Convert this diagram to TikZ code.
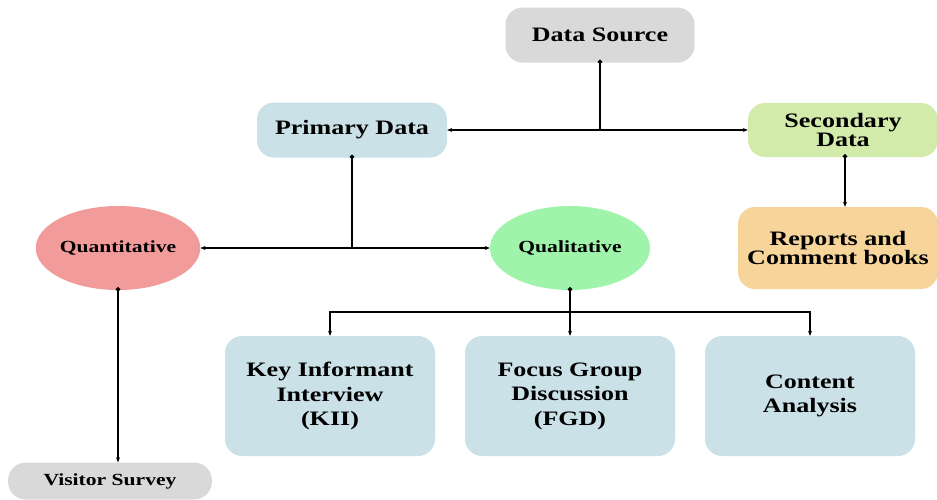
\documentclass[tikz,border=0pt]{standalone}
\usepackage{fontspec}
\setmainfont{Liberation Serif}[FakeStretch=1.27]
\usetikzlibrary{arrows.meta,shapes.geometric}
\definecolor{srcgray}{HTML}{D9D9D9}
\definecolor{boxblue}{HTML}{C9E1E7}
\definecolor{secgreen}{HTML}{D2EBAA}
\definecolor{reporange}{HTML}{F7D499}
\definecolor{quanpink}{HTML}{F29B9B}
\definecolor{qualgreen}{HTML}{9FF3AA}
\begin{document}
\begin{tikzpicture}[x=1pt,y=-1pt,
    databox/.style={rounded corners=17pt, inner sep=0pt, align=center,
      font=\fontsize{20.5}{19}\selectfont\bfseries},
    dataoval/.style={ellipse, inner sep=0pt, minimum width=160pt, minimum height=84pt,
      font=\fontsize{17}{20}\selectfont\bfseries},
    link/.style={line width=1.3pt, {Circle[length=4.5pt]}-{Stealth[length=5pt,width=4pt]}},
    bilink/.style={line width=1.3pt, {Stealth[length=5pt,width=4pt]}-{Stealth[length=5pt,width=4pt]}},
    dotline/.style={line width=1.3pt, {Circle[length=4.5pt]}-},
    tiplink/.style={line width=1.3pt, -{Stealth[length=5pt,width=4pt]}}]
  \useasboundingbox (0,0) rectangle (937,499);
  % Sources
  \node[databox, fill=srcgray, minimum width=189pt, minimum height=55pt] (src) at (600,35) {Data Source};
  \node[databox, fill=boxblue, minimum width=190pt, minimum height=55pt] (prim) at (352,130) {Primary Data};
  \node[databox, fill=secgreen, minimum width=190pt, minimum height=54pt] (sec) at (843,130) {Secondary\\Data};
  \node[databox, fill=reporange, minimum width=200pt, minimum height=82pt] (rep) at (838,248) {Reports and\\Comment books};
  % Methods
  \node[dataoval, fill=quanpink] (quan) at (118,248) {Quantitative};
  \node[dataoval, fill=qualgreen] (qual) at (570,248) {Qualitative};
  % Tools
  \node[databox, fill=boxblue, minimum width=210pt, minimum height=120pt,
    font=\fontsize{20.5}{24.5}\selectfont\bfseries] (kii) at (330,396) {Key Informant\\Interview\\(KII)};
  \node[databox, fill=boxblue, minimum width=210pt, minimum height=120pt,
    font=\fontsize{20.5}{24.5}\selectfont\bfseries] (fgd) at (570,396) {Focus Group\\Discussion\\(FGD)};
  \node[databox, fill=boxblue, minimum width=210pt, minimum height=120pt,
    font=\fontsize{20.5}{24.5}\selectfont\bfseries] (ca) at (810,396) {Content\\Analysis};
  \node[databox, fill=srcgray, rounded corners=18pt, minimum width=204pt, minimum height=37pt,
    font=\fontsize{17}{20}\selectfont\bfseries] (vis) at (110,481) {Visitor Survey};
  % Connectors
  \draw[dotline] ([yshift=3pt]src.south) -- (src.south |- sec.west);
  \draw[bilink] (prim.east) -- (sec.west);
  \draw[dotline] ([yshift=3pt]prim.south) -- (prim.south |- qual.west);
  \draw[bilink] (quan.east) -- (qual.west);
  \draw[link] ([xshift=2pt,yshift=3pt]sec.south) -- ([xshift=2pt]sec.south |- rep.north);
  \draw[link] ([yshift=3pt]quan.south) -- (quan.south |- vis.north);
  \coordinate (split) at (570,312);
  \draw[link] ([yshift=3pt]qual.south) -- (fgd.north);
  \draw[tiplink] (split) -| (kii.north);
  \draw[tiplink] (split) -| (ca.north);
\end{tikzpicture}
\end{document}
